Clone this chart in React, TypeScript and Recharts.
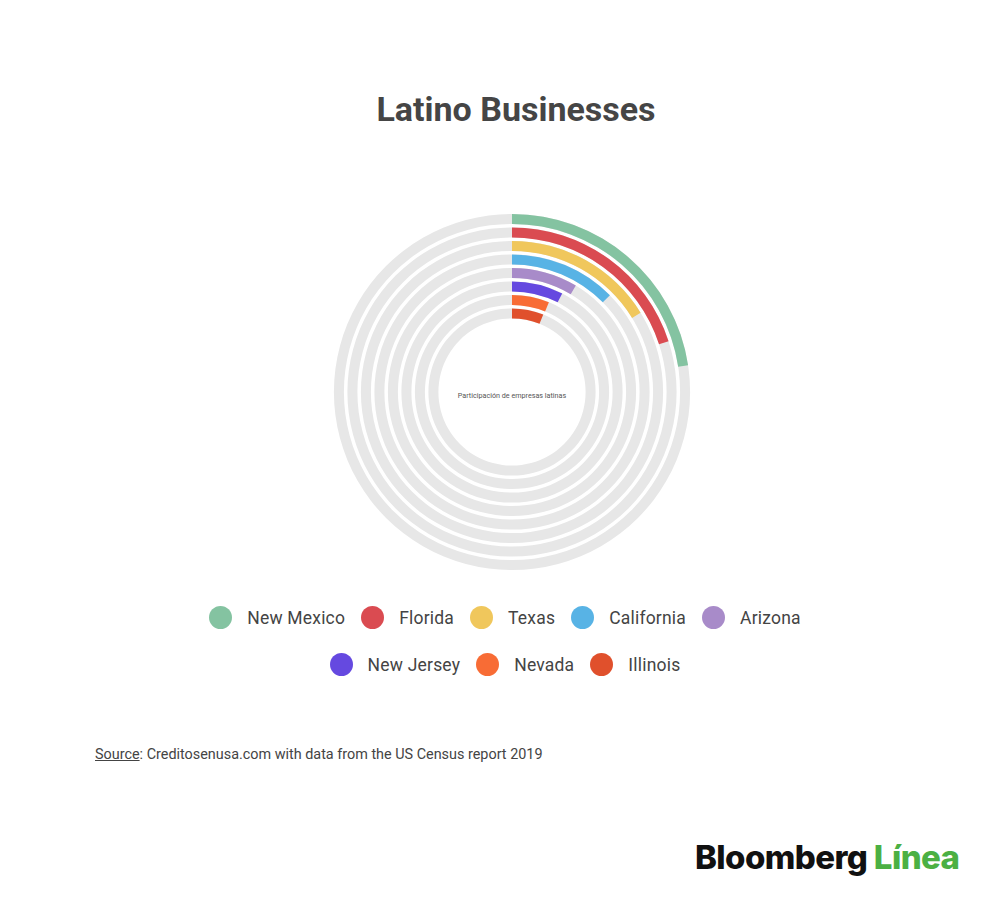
import React from "react"
import { RadialBarChart, RadialBar, PolarAngleAxis, PolarRadiusAxis, Cell } from "recharts"

// legend order, outermost ring first
const states = ["New Mexico", "Florida", "Texas", "California", "Arizona", "New Jersey", "Nevada", "Illinois"]
const shares = [22.6, 20.0, 16.2, 12.6, 8.6, 7.5, 6.2, 6.1]
const colors = ["#84c3a1", "#da4b51", "#f0c75c", "#58b3e5", "#a88bc9", "#6549e0", "#f86c35", "#e0502c"]

const legendRow1 = [0, 1, 2, 3, 4]
const legendRow2 = [5, 6, 7]

// recharts puts the first item on the inner ring, so flip it
const chartData = states.map((name, i) => ({ name, value: shares[i], color: colors[i] })).reverse()

const font = "Roboto, 'Noto Sans', sans-serif"

function LegendItem({ i }: { i: number }) {
  return (
    <div style={{ display: "flex", alignItems: "center", margin: "0 8px" }}>
      <span
        style={{
          width: 23,
          height: 23,
          borderRadius: "50%",
          background: colors[i],
          display: "inline-block",
          marginRight: 15,
        }}
      />
      <span style={{ fontSize: 17.5, color: "#444", letterSpacing: 0.2 }}>{states[i]}</span>
    </div>
  )
}

export default function App() {
  return (
    <div
      style={{
        position: "absolute",
        left: 0,
        top: 0,
        width: 1000,
        height: 902,
        background: "#fff",
        fontFamily: font,
        overflow: "hidden",
      }}
    >
      <div
        style={{
          position: "absolute",
          top: 89,
          left: 16,
          width: 1000,
          textAlign: "center",
          fontSize: 34,
          fontWeight: 700,
          color: "#454545",
        }}
      >
        Latino Businesses
      </div>

      <div style={{ position: "absolute", left: 312, top: 192 }}>
        <RadialBarChart
          width={400}
          height={400}
          cx={200}
          cy={200}
          data={chartData}
          innerRadius={72}
          outerRadius={180}
          startAngle={90}
          endAngle={-270}
          barCategoryGap={1.6}
        >
          <PolarAngleAxis type="number" domain={[0, 100]} tick={false} axisLine={false} />
          <PolarRadiusAxis type="category" dataKey="name" tick={false} axisLine={false} />
          <RadialBar dataKey="value" background={{ fill: "#e7e7e7" }} isAnimationActive={false}>
            {chartData.map((d) => (
              <Cell key={d.name} fill={d.color} />
            ))}
          </RadialBar>
        </RadialBarChart>
      </div>

      <div
        style={{
          position: "absolute",
          left: 412,
          width: 200,
          top: 391,
          textAlign: "center",
          fontSize: 7.2,
          color: "#555",
        }}
      >
        Participación de empresas latinas
      </div>

      <div style={{ position: "absolute", top: 606, left: 0, width: 1010, display: "flex", justifyContent: "center" }}>
        {legendRow1.map((i) => (
          <LegendItem key={i} i={i} />
        ))}
      </div>
      <div style={{ position: "absolute", top: 653, left: 0, width: 1010, display: "flex", justifyContent: "center" }}>
        {legendRow2.map((i) => (
          <LegendItem key={i} i={i} />
        ))}
      </div>

      <div style={{ position: "absolute", left: 95, top: 746, fontSize: 14.4, color: "#444" }}>
        <span style={{ textDecoration: "underline" }}>Source</span>: Creditosenusa.com with data from the US Census report 2019
      </div>

      <div
        style={{
          position: "absolute",
          left: 695,
          top: 837,
          fontFamily: "Inter, Roboto, sans-serif",
          fontSize: 33,
          fontWeight: 800,
          letterSpacing: -0.6,
          whiteSpace: "nowrap",
        }}
      >
        <span style={{ color: "#111" }}>Bloomberg</span> <span style={{ color: "#4bb043" }}>Línea</span>
      </div>
    </div>
  )
}
